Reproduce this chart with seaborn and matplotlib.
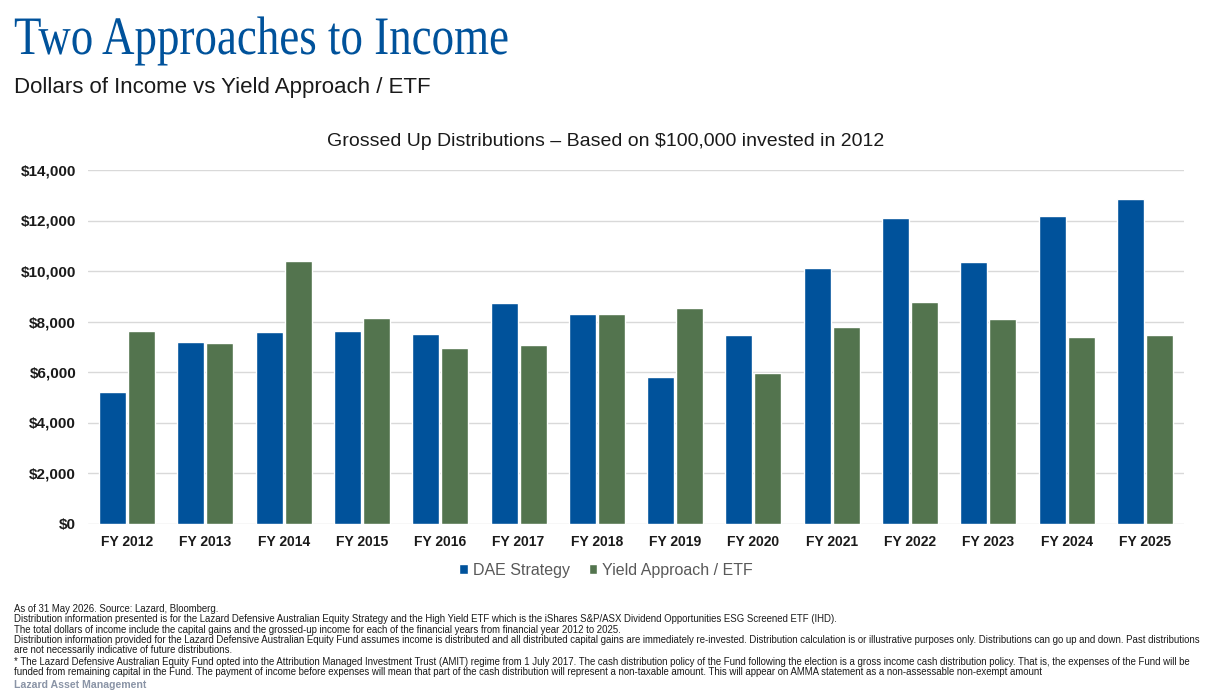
import matplotlib
matplotlib.use("Agg")
import matplotlib.pyplot as plt
import seaborn as sns
import pandas as pd
from matplotlib.patheffects import AbstractPathEffect
from matplotlib.transforms import Affine2D
from matplotlib.ticker import FuncFormatter, MultipleLocator
from matplotlib.patches import Patch

years = ["FY 2012", "FY 2013", "FY 2014", "FY 2015", "FY 2016", "FY 2017", "FY 2018",
         "FY 2019", "FY 2020", "FY 2021", "FY 2022", "FY 2023", "FY 2024", "FY 2025"]
dae_strategy = [5220, 7200, 7590, 7630, 7510, 8740, 8300,
                5810, 7470, 10120, 12100, 10360, 12180, 12850]
yield_etf = [7630, 7160, 10400, 8150, 6960, 7080, 8300,
             8540, 5970, 7790, 8780, 8110, 7400, 7470]
series_names = ["DAE Strategy", "Yield Approach / ETF"]

footnotes = [
    "As of 31 May 2026. Source: Lazard, Bloomberg.",
    "Distribution information presented is for the Lazard Defensive Australian Equity Strategy and the High Yield ETF which is the iShares S&P/ASX Dividend Opportunities ESG Screened ETF (IHD).",
    "The total dollars of income include the capital gains and the grossed-up income for each of the financial years from financial year 2012 to 2025.",
    "Distribution information provided for the Lazard Defensive Australian Equity Fund assumes income is distributed and all distributed capital gains are immediately re-invested. Distribution calculation is or illustrative purposes only. Distributions can go up and down. Past distributions",
    "are not necessarily indicative of future distributions.",
    "* The Lazard Defensive Australian Equity Fund opted into the Attribution Managed Investment Trust (AMIT) regime from 1 July 2017. The cash distribution policy of the Fund following the election is a gross income cash distribution policy. That is, the expenses of the Fund will be",
    "funded from remaining capital in the Fund. The payment of income before expenses will mean that part of the cash distribution will represent a non-taxable amount. This will appear on AMMA statement as a non-assessable non-exempt amount",
]

BLUE = "#00529B"
GREEN = "#53744E"

df = pd.DataFrame({
    "year": years * 2,
    "value": dae_strategy + yield_etf,
    "series": [series_names[0]] * len(years) + [series_names[1]] * len(years),
})

sns.set_theme(style="white")
plt.rcParams["font.family"] = ["Liberation Sans", "DejaVu Sans"]


class Condense(AbstractPathEffect):
    def __init__(self, sx):
        super().__init__()
        self.sx = sx

    def draw_path(self, renderer, gc, tpath, affine, rgbFace=None):
        renderer.draw_path(gc, tpath, Affine2D().scale(self.sx, 1.0) + affine, rgbFace)


W, H = 1231, 696
fig = plt.figure(figsize=(W / 100, H / 100), dpi=100)
ax = fig.add_axes([88 / W, 1 - 523.5 / H, (1184 - 88) / W, (523.5 - 170) / H])

sns.barplot(data=df, x="year", y="value", hue="series", order=years,
            hue_order=series_names, palette=[BLUE, GREEN],
            width=0.74, gap=0.07, saturation=1, ax=ax, legend=False)

ax.set_ylim(0, 14000)
ax.yaxis.set_major_locator(MultipleLocator(2000))
ax.yaxis.set_major_formatter(FuncFormatter(lambda v, p: f"${v:,.0f}"))
ax.grid(axis="y", color="#d9d9d9", linewidth=1)
ax.set_axisbelow(True)
for s in ax.spines.values():
    s.set_visible(False)
ax.set_xlabel("")
ax.set_ylabel("")
ax.tick_params(axis="both", length=0)
ax.tick_params(axis="y", pad=8.5)
ax.tick_params(axis="x", pad=8)
for lab in ax.get_xticklabels():
    lab.set_fontweight("bold")
    lab.set_fontsize(10)
    lab.set_color("#1a1a1a")
for lab in ax.get_yticklabels():
    lab.set_fontweight("bold")
    lab.set_fontsize(11)
    lab.set_color("#1a1a1a")

handles = [Patch(facecolor=BLUE), Patch(facecolor=GREEN)]
leg = fig.legend(handles, series_names, loc="center", bbox_to_anchor=(606 / W, 1 - 570 / H),
                 ncol=2, frameon=False, fontsize=11.5, handlelength=0.55, handleheight=0.55,
                 handletextpad=0.3, columnspacing=1.2, labelcolor="#595959")

fig.text(606 / W, 1 - 141 / H, "Grossed Up Distributions \u2013 Based on $100,000 invested in 2012",
         ha="center", va="center", fontsize=14, color="#1a1a1a")

t = fig.text(14 / W, 1 - 54 / H, "Two Approaches to Income", ha="left", va="baseline",
             fontsize=39, color="#00529B", family="Liberation Serif")
t.set_path_effects([Condense(0.83)])

fig.text(14 / W, 1 - 88 / H, "Dollars of Income vs Yield Approach / ETF", ha="left",
         va="center", fontsize=16, color="#1a1a1a")

ys = [609, 619, 630, 640, 650, 662, 672]
for yy, line in zip(ys, footnotes):
    fig.text(14 / W, 1 - yy / H, line, ha="left", va="center", fontsize=6.9, color="#1a1a1a")
fig.text(14 / W, 1 - 685 / H, "Lazard Asset Management", ha="left", va="center",
         fontsize=7.6, color="#8a94a6", fontweight="bold")

fig.savefig("out.png", dpi=100)
